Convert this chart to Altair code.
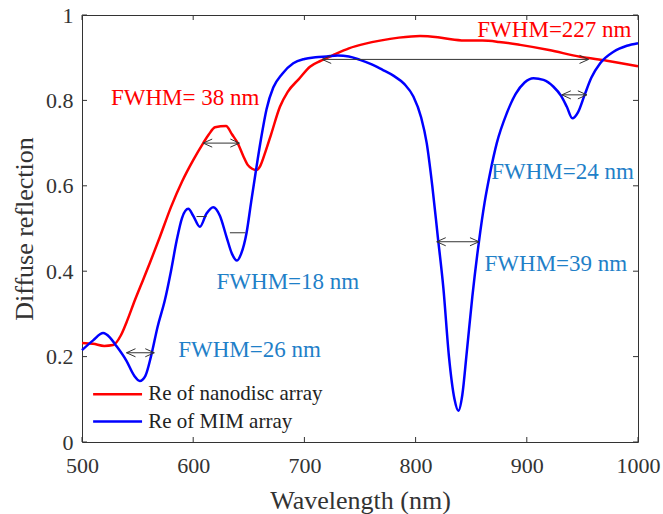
import altair as alt
import pandas as pd

# ---------------- data ----------------
wl_red = [500, 510, 520, 528, 535, 540, 547.7, 555, 561, 570, 580, 590, 600, 609, 614, 619.6,
          629.5, 635, 640, 645, 649, 653, 657, 660, 665, 670, 678, 685, 695, 705, 715, 725,
          740, 755, 768, 785, 804, 820, 835, 846, 860, 875, 894, 920, 948, 972, 1000]
re_red = [0.232, 0.230, 0.225, 0.227, 0.250, 0.280, 0.333, 0.380, 0.419, 0.480, 0.550, 0.610,
          0.660, 0.700, 0.720, 0.737, 0.740, 0.720, 0.700, 0.670, 0.649, 0.640, 0.637, 0.645,
          0.680, 0.720, 0.785, 0.820, 0.850, 0.879, 0.893, 0.905, 0.922, 0.933, 0.940, 0.947,
          0.951, 0.948, 0.942, 0.940, 0.940, 0.937, 0.930, 0.918, 0.902, 0.893, 0.880]

wl_blue = [500, 510, 519, 525, 530, 540, 547, 552, 557, 562, 568, 574.6, 580, 585, 590, 595.6,
           600, 606, 612, 618, 624, 630, 635, 639.4, 643, 648, 652, 656.5, 661, 666, 672, 680,
           690, 700, 710, 720, 730, 740, 750, 760, 770, 780, 790, 798, 805, 810, 815, 820, 825,
           830, 835, 838.5, 842, 846, 851, 857, 862, 867, 873, 882, 890, 898, 906, 915, 924,
           931, 936, 941, 946, 952, 958, 966, 978, 990, 1000]
re_blue = [0.215, 0.238, 0.255, 0.245, 0.228, 0.190, 0.155, 0.143, 0.155, 0.200, 0.270, 0.333,
           0.400, 0.470, 0.525, 0.546, 0.530, 0.504, 0.535, 0.550, 0.530, 0.480, 0.440, 0.425,
           0.440, 0.490, 0.560, 0.637, 0.710, 0.780, 0.830, 0.862, 0.887, 0.897, 0.901, 0.903,
           0.905, 0.903, 0.895, 0.885, 0.872, 0.858, 0.838, 0.809, 0.760, 0.700, 0.600, 0.480,
           0.360, 0.200, 0.100, 0.073, 0.110, 0.210, 0.340, 0.470, 0.560, 0.630, 0.700, 0.770,
           0.815, 0.842, 0.852, 0.848, 0.832, 0.810, 0.785, 0.758, 0.772, 0.813, 0.853, 0.887,
           0.914, 0.928, 0.934]

series_names = ["Re of nanodisc array", "Re of MIM array"]
series_colors = ["#ff0000", "#0000ff"]

x_ticks = [500, 600, 700, 800, 900, 1000]
y_ticks = [0, 0.2, 0.4, 0.6, 0.8, 1.0]

arrow_start = [540, 609, 716, 819, 931.5]
arrow_end = [565, 641.5, 955.5, 857, 954]
arrow_y = [0.209, 0.700, 0.896, 0.469, 0.813]

dash_start = [603, 633]
dash_end = [612, 647]
dash_y = [0.528, 0.490]

label_text = ["FWHM= 38 nm", "FWHM=227 nm", "FWHM=24 nm", "FWHM=39 nm", "FWHM=18 nm", "FWHM=26 nm"]
label_x = [526, 855.5, 868, 862, 621, 586.5]
label_y = [0.806, 0.965, 0.632, 0.417, 0.375, 0.215]
label_color = ["#ff0000", "#ff0000", "#1f80c8", "#1f80c8", "#1f80c8", "#1f80c8"]

legend_line_start = [510, 510]
legend_line_end = [554, 554]
legend_text_x = [559.5, 559.5]
legend_y = [0.112, 0.048]

# ---------------- tables ----------------
lines_df = pd.concat([
    pd.DataFrame({"wl": wl_red, "re": re_red, "series": series_names[0]}),
    pd.DataFrame({"wl": wl_blue, "re": re_blue, "series": series_names[1]}),
])
arrows_df = pd.DataFrame({"x1": arrow_start, "x2": arrow_end, "y": arrow_y})
dash_df = pd.DataFrame({"x1": dash_start, "x2": dash_end, "y": dash_y})
labels_df = pd.DataFrame({"x": label_x, "y": label_y, "t": label_text, "c": label_color})
legend_df = pd.DataFrame({"x1": legend_line_start, "x2": legend_line_end, "xt": legend_text_x,
                          "y": legend_y, "name": series_names, "c": series_colors})
xt_df = pd.DataFrame({"v": x_ticks})
yt_df = pd.DataFrame({"v": y_ticks})

FONT = "Liberation Serif, Times New Roman, Times, serif"
W, H = 556, 427
xs = alt.Scale(domain=[500, 1000], nice=False, zero=False)
ys = alt.Scale(domain=[0, 1], nice=False)
xa = alt.Axis(values=x_ticks, title="Wavelength (nm)", format="d", labelPadding=13, titlePadding=11,
              labelFlush=False, grid=False, domain=False, ticks=False, tickSize=0,
              labelFont=FONT, labelFontSize=22, labelColor="#333333",
              titleFont=FONT, titleFontSize=26, titleFontWeight="normal", titleColor="#333333")
ya = alt.Axis(values=y_ticks, title="Diffuse reflection", format=".1~f", labelPadding=9,
              titlePadding=8, labelFlush=False, grid=False, domain=False, ticks=False, tickSize=0,
              labelFont=FONT, labelFontSize=22, labelColor="#333333",
              titleFont=FONT, titleFontSize=26, titleFontWeight="normal", titleColor="#333333")
ARROW = "#333333"


def X(f):
    return alt.X(f, scale=xs, axis=xa)


def Y(f):
    return alt.Y(f, scale=ys, axis=ya)


lines = alt.Chart(lines_df).mark_line(strokeWidth=2.5, interpolate="monotone").encode(
    x=X("wl:Q"), y=Y("re:Q"),
    color=alt.Color("series:N", scale=alt.Scale(domain=series_names, range=series_colors), legend=None),
)

shafts = alt.Chart(arrows_df).mark_rule(color=ARROW, strokeWidth=1).encode(
    x=X("x1:Q"), x2="x2:Q", y=Y("y:Q"))
head_l = alt.Chart(arrows_df).mark_point(shape="M0,0L1,-0.45M0,0L1,0.45", size=324, filled=False,
                                          color=ARROW, strokeWidth=1, opacity=1).encode(
    x=X("x1:Q"), y=Y("y:Q"))
head_r = alt.Chart(arrows_df).mark_point(shape="M0,0L-1,-0.45M0,0L-1,0.45", size=324, filled=False,
                                          color=ARROW, strokeWidth=1, opacity=1).encode(
    x=X("x2:Q"), y=Y("y:Q"))
dashes = alt.Chart(dash_df).mark_rule(color=ARROW, strokeWidth=1).encode(
    x=X("x1:Q"), x2="x2:Q", y=Y("y:Q"))

labels = alt.Chart(labels_df).mark_text(align="left", baseline="middle", font=FONT, fontSize=23).encode(
    x=X("x:Q"), y=Y("y:Q"), text="t:N", color=alt.Color("c:N", scale=None))

leg_lines = alt.Chart(legend_df).mark_rule(strokeWidth=2.5).encode(
    x=X("x1:Q"), x2="x2:Q", y=Y("y:Q"), color=alt.Color("c:N", scale=None))
leg_text = alt.Chart(legend_df).mark_text(align="left", baseline="middle", font=FONT, fontSize=21,
                                          color="#222222").encode(
    x=X("xt:Q"), y=Y("y:Q"), text="name:N")

TK = "#333333"
xt_bot = alt.Chart(xt_df).mark_rule(color=TK, strokeWidth=1).encode(
    x=X("v:Q"), y=alt.value(H), y2=alt.value(H - 5))
xt_top = alt.Chart(xt_df).mark_rule(color=TK, strokeWidth=1).encode(
    x=X("v:Q"), y=alt.value(0), y2=alt.value(5))
yt_left = alt.Chart(yt_df).mark_rule(color=TK, strokeWidth=1).encode(
    y=Y("v:Q"), x=alt.value(0), x2=alt.value(5))
yt_right = alt.Chart(yt_df).mark_rule(color=TK, strokeWidth=1).encode(
    y=Y("v:Q"), x=alt.value(W), x2=alt.value(W - 5))

chart = alt.layer(
    lines, xt_bot, xt_top, yt_left, yt_right,
    shafts, head_l, head_r, dashes, labels, leg_lines, leg_text,
).properties(
    width=W, height=H,
    autosize=alt.AutoSizeParams(type="none"),
    padding={"left": 82, "top": 15, "right": 25, "bottom": 72},
    background="white",
).configure_view(
    stroke="#333333", strokeWidth=1
)

chart.save("out.html", embed_options={"renderer": "svg", "actions": False})
